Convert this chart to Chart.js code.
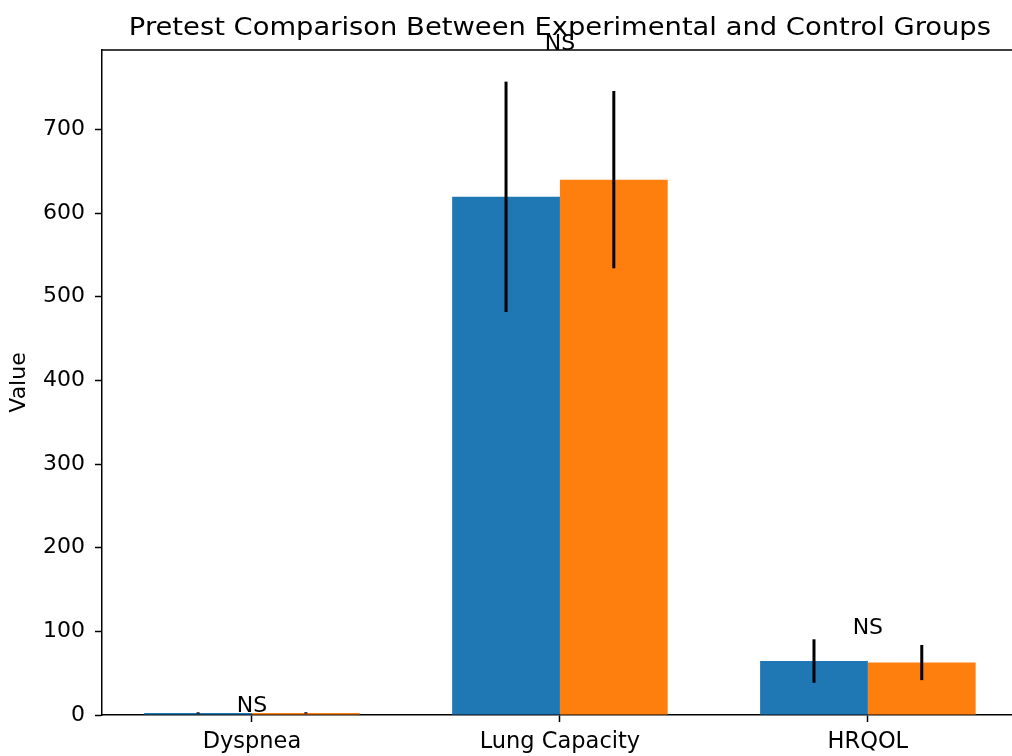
<!DOCTYPE html>
<html><head><meta charset="utf-8">
<script src="https://cdn.jsdelivr.net/npm/chart.js@4.4.0/dist/chart.umd.min.js"></script>
<style>html,body{margin:0;padding:0;background:#fff;overflow:hidden}</style>
</head><body>
<canvas id="c" width="1012" height="756"></canvas>
<script>
const categories = ['Dyspnea', 'Lung Capacity', 'HRQOL'];
const experimentalMeans = [2.4, 619.5, 64.5];
const experimentalSD = [0.8, 137.7, 26];
const controlMeans = [2.5, 640, 62.7];
const controlSD = [0.8, 106, 21];
const significanceLabels = ['NS', 'NS', 'NS'];
const significanceY = [3.6, 795, 97];
const yTicks = [0, 100, 200, 300, 400, 500, 600, 700];
const titleText = 'Pretest Comparison Between Experimental and Control Groups';
const yLabel = 'Value';

const FONT = '"DejaVu Sans", sans-serif';
Chart.defaults.font.family = FONT;
Chart.defaults.color = '#000';

const errorBars = {
  id: 'errorBars',
  afterDatasetsDraw(chart) {
    const ctx = chart.ctx, ys = chart.scales.y;
    const sds = [experimentalSD, controlSD];
    chart.data.datasets.forEach((ds, di) => {
      const meta = chart.getDatasetMeta(di);
      meta.data.forEach((bar, i) => {
        const m = ds.data[i].y, e = sds[di][i];
        ctx.save();
        ctx.strokeStyle = '#000';
        ctx.lineWidth = 3;
        ctx.beginPath();
        ctx.moveTo(bar.x, ys.getPixelForValue(m - e));
        ctx.lineTo(bar.x, ys.getPixelForValue(m + e));
        ctx.stroke();
        ctx.restore();
      });
    });
  },
  afterDraw(chart) {
    const ctx = chart.ctx, xs = chart.scales.x, ys = chart.scales.y, a = chart.chartArea;
    ctx.save();
    // top spine
    ctx.strokeStyle = '#000';
    ctx.lineWidth = 1.5;
    ctx.beginPath();
    ctx.moveTo(a.left, a.top);
    ctx.lineTo(a.right, a.top);
    ctx.stroke();
    // significance labels
    ctx.fillStyle = '#000';
    ctx.textAlign = 'center';
    ctx.textBaseline = 'alphabetic';
    ctx.font = '22px ' + FONT;
    significanceLabels.forEach((t, i) => {
      ctx.fillText(t, xs.getPixelForValue(i), ys.getPixelForValue(significanceY[i]));
    });
    // title (slightly wide lettering as in the reference)
    ctx.font = '24px ' + FONT;
    ctx.translate(xs.getPixelForValue(1), 34.5);
    ctx.scale(1.14, 1);
    ctx.fillText(titleText, 0, 0);
    ctx.restore();
  }
};

new Chart(document.getElementById('c'), {
  type: 'bar',
  data: {
    datasets: [
      { label: 'Experimental', data: experimentalMeans.map((v, i) => ({ x: i, y: v })), backgroundColor: '#1f77b4', borderWidth: 0 },
      { label: 'Control', data: controlMeans.map((v, i) => ({ x: i, y: v })), backgroundColor: '#ff7f0e', borderWidth: 0 }
    ]
  },
  options: {
    responsive: false,
    animation: false,
    events: [],
    layout: { padding: { top: 50, left: 0, right: 0, bottom: 0 } },
    datasets: { bar: { categoryPercentage: 0.7, barPercentage: 1.0 } },
    plugins: { legend: { display: false }, title: { display: false }, tooltip: { enabled: false } },
    scales: {
      x: {
        type: 'linear', min: -0.487, max: 2.468, offset: false,
        afterBuildTicks: s => { s.ticks = categories.map((c, i) => ({ value: i })); },
        afterFit: s => { s.height = 41; },
        ticks: { callback: v => categories[v], autoSkip: false, maxRotation: 0, font: { size: 22.5 }, color: '#000', padding: 7 },
        grid: { display: true, offset: false, drawOnChartArea: false, drawTicks: true, tickLength: 7, tickWidth: 1.5, color: '#000' },
        border: { display: true, color: '#000', width: 1.5 }
      },
      y: {
        type: 'linear', min: 0, max: 795,
        afterBuildTicks: s => { s.ticks = yTicks.map(v => ({ value: v })); },
        afterFit: s => { s.width = 102; },
        ticks: { font: { size: 22 }, color: '#000', padding: 10 },
        grid: { display: true, drawOnChartArea: false, drawTicks: true, tickLength: 7, tickWidth: 1.5, color: '#000' },
        border: { display: true, color: '#000', width: 1.5 },
        title: { display: true, text: yLabel, font: { size: 22 }, color: '#000', padding: { top: 6, bottom: 0 } }
      }
    }
  },
  plugins: [errorBars]
});
</script>
</body></html>
